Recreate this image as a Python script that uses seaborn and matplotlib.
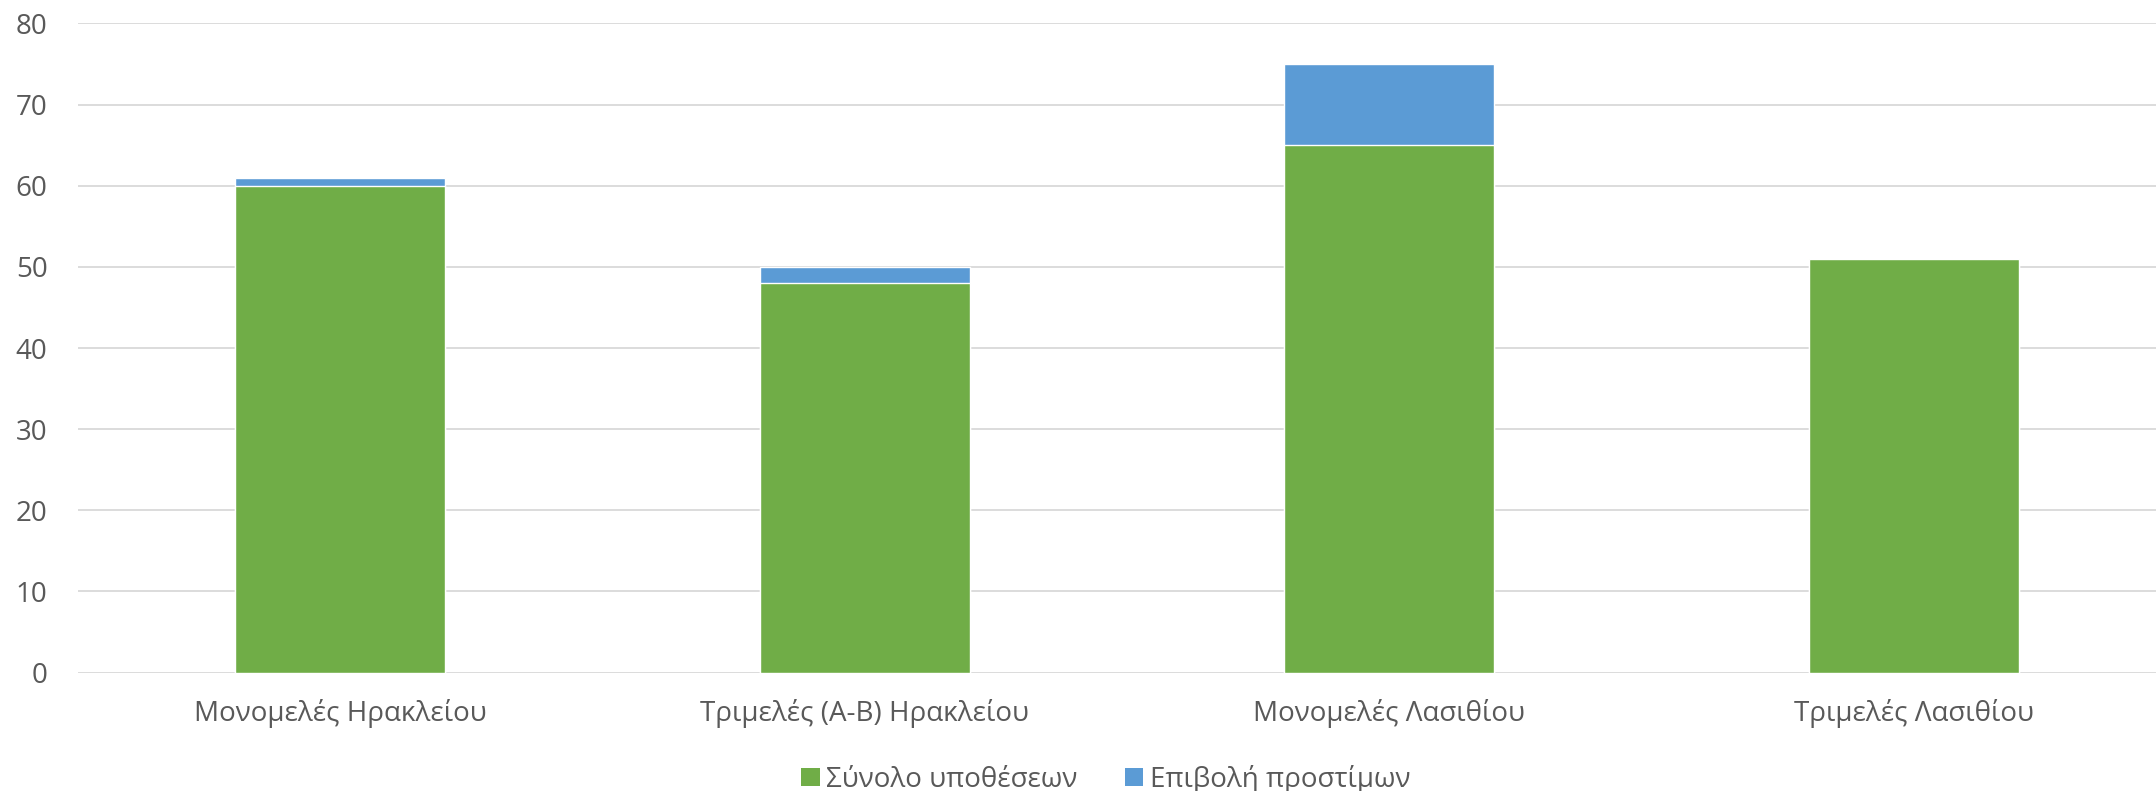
import matplotlib
matplotlib.use("Agg")
import matplotlib.pyplot as plt
from matplotlib.patches import Patch
import seaborn as sns
import pandas as pd

# data
categories = ["Μονομελές Ηρακλείου", "Τριμελές (Α-Β) Ηρακλείου",
              "Μονομελές Λασιθίου", "Τριμελές Λασιθίου"]
total_cases = [60, 48, 65, 51]      # Σύνολο υποθέσεων
fines = [1, 2, 10, 0]               # Επιβολή προστίμων
series_names = ["Σύνολο υποθέσεων", "Επιβολή προστίμων"]

green = "#70AD47"
blue = "#5B9BD5"
text_col = "#595959"
grid_col = "#D9D9D9"

df = pd.DataFrame({"category": categories, "total": total_cases, "fines": fines})
df["stacked"] = df["total"] + df["fines"]

sns.set_theme(style="white")
plt.rcParams["font.family"] = ["Open Sans", "DejaVu Sans"]

fig = plt.figure(figsize=(21.56, 7.91), dpi=100)
ax = fig.add_axes([0.0362, 0.1498, 0.9731, 0.8205])

# stacked bars: draw the full height in blue, then green over it
sns.barplot(data=df, x="category", y="stacked", color=blue, width=0.4,
            saturation=1, ax=ax, zorder=3)
sns.barplot(data=df, x="category", y="total", color=green, width=0.4,
            saturation=1, ax=ax, zorder=4)

ax.set_xlim(-0.5, 3.5)
ax.set_ylim(0, 80)
ax.set_yticks(range(0, 81, 10))
ax.set_xlabel("")
ax.set_ylabel("")
ax.yaxis.grid(True, color=grid_col, linewidth=1.3, zorder=0)
ax.set_axisbelow(True)
for s in ax.spines.values():
    s.set_visible(False)
ax.tick_params(axis="both", length=0, colors=text_col, labelsize=20)
ax.tick_params(axis="y", pad=22)
ax.tick_params(axis="x", pad=19)

handles = [Patch(facecolor=green, edgecolor="none"),
           Patch(facecolor=blue, edgecolor="none")]
fig.legend(handles, series_names, loc="center", bbox_to_anchor=(0.513, 0.015),
           ncol=2, frameon=False, fontsize=20, labelcolor=text_col,
           handlelength=0.65, handleheight=0.65, handletextpad=0.25,
           columnspacing=1.7)

fig.savefig("out.png", dpi=100, facecolor="white")
